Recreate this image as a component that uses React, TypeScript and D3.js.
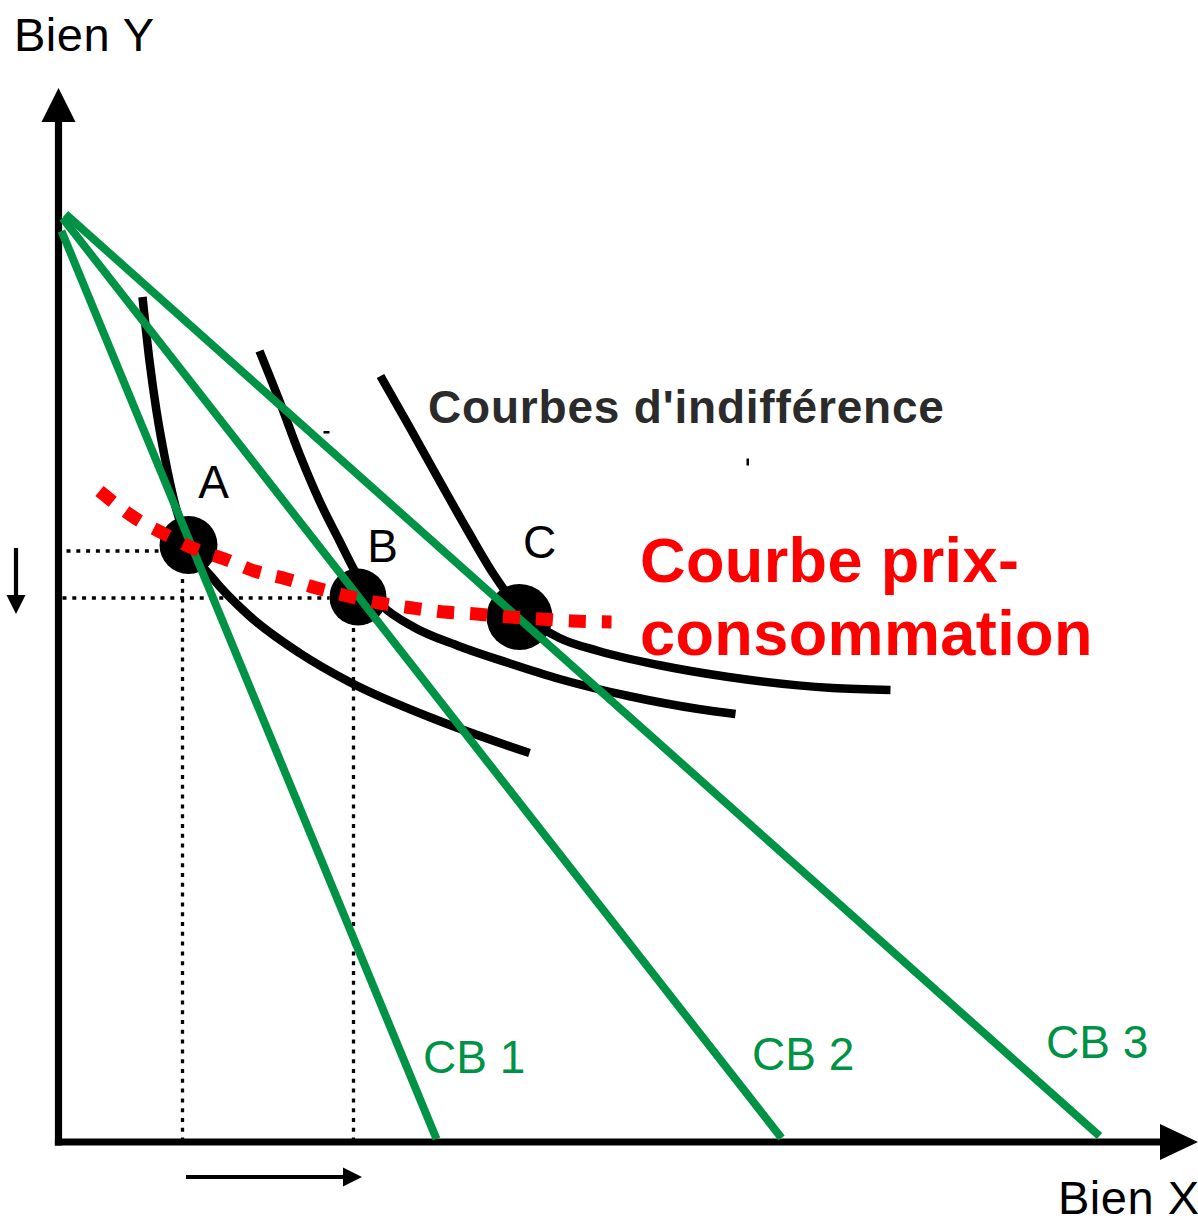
import React from 'react';
import * as d3 from 'd3';

// Diagram values, in abstract "quantity" units (x: Bien X, y: Bien Y)
type Pt = [number, number];

const budgetNames = ['CB 1', 'CB 2', 'CB 3'];
const budgetStarts: Pt[] = [[0.3, 91.1], [0.4, 92.4], [0.7, 92.8]];
const budgetEnds: Pt[] = [[37.8, 0.3], [72.3, 0.4], [104.1, 0.6]];

const indiff1: Pt[] = [[8.4, 84.5], [9.1, 78.1], [9.8, 73.1], [10.6, 68.6], [11.7, 63.6], [13.1, 59.6], [15.4, 56.4], [19.1, 52.6], [24.1, 48.9], [29.1, 46.0], [38.1, 42.1], [47.1, 38.9]];
const indiff2: Pt[] = [[20.1, 79.1], [22.1, 74.1], [24.1, 68.8], [26.1, 64.1], [28.1, 60.1], [29.8, 56.8], [32.4, 53.6], [35.5, 51.5], [40.0, 49.6], [45.0, 47.9], [50.1, 46.3], [57.0, 44.6], [64.0, 43.3], [67.7, 42.8]];
const indiff3: Pt[] = [[32.2, 76.6], [35.1, 71.5], [38.0, 66.3], [41.0, 61.0], [43.5, 56.8], [45.5, 54.0], [47.5, 52.0], [50.1, 50.4], [54.0, 49.1], [60.0, 47.7], [67.0, 46.5], [77.4, 45.4], [83.2, 45.2]];

const priceConsumption: Pt[] = [[4.1, 65.1], [7.8, 62.3], [10.6, 60.8], [13.4, 59.4], [16.6, 58.3], [19.6, 57.1], [22.8, 56.3], [25.8, 55.4], [28.9, 54.6], [32.1, 53.9], [35.4, 53.4], [38.6, 53.0], [41.8, 52.8], [45.1, 52.5], [48.3, 52.3], [51.4, 52.1], [55.3, 52.0]];

const optimumNames = ['A', 'B', 'C'];
const optimumPts: Pt[] = [[13.0, 59.7], [29.95, 54.5], [46.1, 52.5]];
const optimumRadius = [29, 28.5, 33];
const optimumLabelPts: Pt[] = [[15.5, 64.4], [32.4, 58.0], [48.1, 58.4]];

// dotted guides to the axes
const hGuides: [number, number, number][] = [[59.1, 0.8, 10.0], [54.4, 0.4, 27.1]]; // y, x0, x1
const vGuides: [number, number, number][] = [[12.4, 56.3, 0], [29.5, 51.4, 0]]; // x, y0, y1

// stray little marks present in the original drawing
const strayH: Pt[] = [[26.8, 71.0]];
const strayV: Pt[] = [[68.9, 68.0]];

const W = 1198;
const H = 1218;
const GREEN = '#009245';

export default function App() {
  const x = d3.scaleLinear().domain([0, 100]).range([58.5, 1058.5]);
  const y = d3.scaleLinear().domain([0, 100]).range([1142, 142]);

  const smooth = d3.line<Pt>().x(d => x(d[0])).y(d => y(d[1])).curve(d3.curveMonotoneX);
  const straight = d3.line<Pt>().x(d => x(d[0])).y(d => y(d[1]));

  const curves = [indiff1, indiff2, indiff3];
  const font = '"Liberation Sans", Arial, Helvetica, sans-serif';

  const cbLabels: Pt[] = [[423, 1073], [752, 1070], [1046, 1058]];

  return (
    <svg width={W} height={H} style={{ position: 'absolute', left: 0, top: 0, background: '#fff' }} fontFamily={font}>
      <rect x={0} y={0} width={W} height={H} fill="#fff" />

      {/* dotted guides */}
      <g stroke="#000" strokeWidth={3.3} strokeDasharray="4,5.8" fill="none">
        {hGuides.map((g, i) => (
          <line key={'h' + i} x1={x(g[1])} x2={x(g[2])} y1={y(g[0])} y2={y(g[0])} />
        ))}
        {vGuides.map((g, i) => (
          <line key={'v' + i} x1={x(g[0])} x2={x(g[0])} y1={y(g[1])} y2={y(g[2])} />
        ))}
      </g>

      {/* axes */}
      <line x1={x(0)} x2={x(0)} y1={118} y2={y(0) + 3.6} stroke="#000" strokeWidth={7.2} />
      <path d={`M${x(0) - 17},122 L${x(0)},88 L${x(0) + 17},122 Z`} fill="#000" />
      <line x1={x(0) - 3.6} x2={1165} y1={y(0)} y2={y(0)} stroke="#000" strokeWidth={7.2} />
      <path d={`M1160,${y(0) - 18} L1198,${y(0)} L1160,${y(0) + 18} Z`} fill="#000" />

      {/* small direction arrows */}
      <line x1={16} x2={16} y1={548} y2={598} stroke="#000" strokeWidth={4.2} />
      <path d="M6.5,595 L16,614 L25.5,595 Z" fill="#000" />
      <line x1={186} x2={346} y1={1177} y2={1177} stroke="#000" strokeWidth={4.2} />
      <path d="M343,1167.5 L362,1177 L343,1186.5 Z" fill="#000" />

      {/* stray marks */}
      {strayH.map((p, i) => (
        <rect key={'sh' + i} x={x(p[0]) - 3} y={y(p[1]) - 1} width={6} height={2.5} fill="#000" />
      ))}
      {strayV.map((p, i) => (
        <rect key={'sv' + i} x={x(p[0]) - 1} y={y(p[1]) - 3.5} width={2.5} height={7} fill="#000" />
      ))}

      {/* indifference curves */}
      {curves.map((c, i) => (
        <path key={'ic' + i} d={smooth(c) || ''} fill="none" stroke="#000" strokeWidth={8.5} />
      ))}

      {/* optimum points */}
      {optimumPts.map((p, i) => (
        <circle key={'o' + i} cx={x(p[0])} cy={y(p[1])} r={optimumRadius[i]} fill="#000" />
      ))}

      {/* budget lines */}
      {budgetNames.map((n, i) => (
        <path key={'cb' + i} d={straight([budgetStarts[i], budgetEnds[i]]) || ''} stroke={GREEN} strokeWidth={8} fill="none" />
      ))}

      {/* price-consumption curve */}
      <path d={smooth(priceConsumption) || ''} fill="none" stroke="#ff0000" strokeWidth={13} strokeDasharray="17,16" />

      {/* labels */}
      {optimumNames.map((n, i) => (
        <text key={'ol' + i} x={x(optimumLabelPts[i][0])} y={y(optimumLabelPts[i][1])} textAnchor="middle" fontSize={46} fill="#000">{n}</text>
      ))}
      {budgetNames.map((n, i) => (
        <text key={'cbl' + i} x={cbLabels[i][0]} y={cbLabels[i][1]} fontSize={46} fill={GREEN}>{n}</text>
      ))}

      <text x={14} y={51} fontSize={47} fill="#000" letterSpacing={0.5}>Bien Y</text>
      <text x={1058} y={1214} fontSize={47} fill="#000" letterSpacing={0.5}>Bien X</text>

      <text x={428} y={423} fontSize={46} fontWeight="bold" fill="#2b2b2b" letterSpacing={0.8}>Courbes d'indifférence</text>
      <text x={640} y={582} fontSize={63} fontWeight="bold" fill="#ff0000" letterSpacing={0.4}>Courbe prix-</text>
      <text x={640} y={655} fontSize={63} fontWeight="bold" fill="#ff0000" letterSpacing={0.4}>consommation</text>
    </svg>
  );
}
